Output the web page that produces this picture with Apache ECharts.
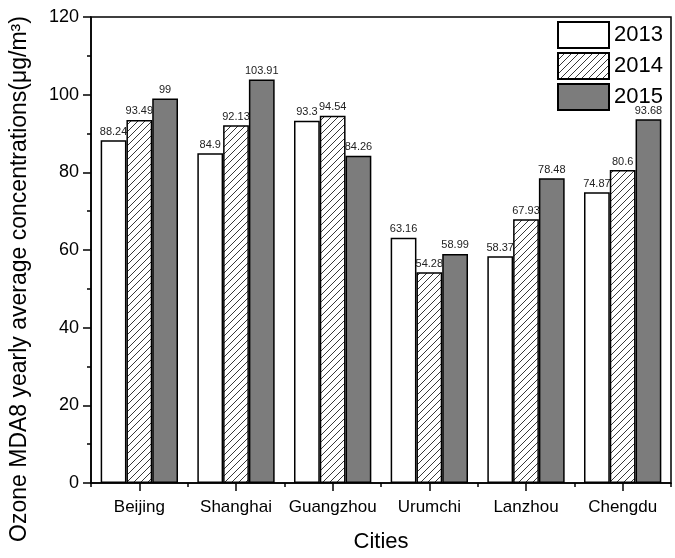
<!DOCTYPE html>
<html>
<head>
<meta charset="utf-8">
<script src="https://cdn.jsdelivr.net/npm/echarts@6/dist/echarts.min.js"></script>
<style>html,body{margin:0;padding:0;background:#fff}#c{width:675px;height:558px}</style>
</head>
<body>
<div id="c"></div>
<script>
const cities = ['Beijing', 'Shanghai', 'Guangzhou', 'Urumchi', 'Lanzhou', 'Chengdu'];
const years = ['2013', '2014', '2015'];
const v2013 = [88.24, 84.9, 93.3, 63.16, 58.37, 74.87];
const v2014 = [93.49, 92.13, 94.54, 54.28, 67.93, 80.6];
const v2015 = [99, 103.91, 84.26, 58.99, 78.48, 93.68];
const yTicks = [0, 20, 40, 60, 80, 100, 120];
const yName = 'Ozone MDA8 yearly average concentrations(μg/m³)';

const FONT = '"Liberation Sans", Arial, sans-serif';

function hatch() {
  const s = 7;
  const c = document.createElement('canvas');
  c.width = s; c.height = s;
  const g = c.getContext('2d');
  g.fillStyle = '#fff'; g.fillRect(0, 0, s, s);
  g.strokeStyle = '#222'; g.lineWidth = 0.9;
  g.beginPath();
  g.moveTo(0, s); g.lineTo(s, 0);
  g.moveTo(-1, 1); g.lineTo(1, -1);
  g.moveTo(s - 1, s + 1); g.lineTo(s + 1, s - 1);
  g.stroke();
  return c;
}

const fills = ['#ffffff', { image: hatch(), repeat: 'repeat' }, '#7c7c7c'];
const vals = [v2013, v2014, v2015];

const chart = echarts.init(document.getElementById('c'), null, { renderer: 'canvas' });
chart.setOption({
  animation: false,
  backgroundColor: '#fff',
  grid: { left: 91, right: 4, top: 17, bottom: 69, show: true, borderColor: '#000', borderWidth: 1.5, backgroundColor: 'transparent' },
  legend: {
    orient: 'vertical', left: 557, top: 21, padding: 0,
    itemWidth: 51, itemHeight: 26, itemGap: 3,
    textStyle: { fontFamily: FONT, fontSize: 22, color: '#000' },
    data: years.map(y => ({ name: y, icon: 'rect' }))
  },
  graphic: [{
    type: 'text', left: 8, top: 'middle', rotation: Math.PI / 2,
    style: { text: yName, fontFamily: FONT, fontSize: 23, fill: '#000' }
  }],
  xAxis: [{
    type: 'category', data: cities,
    axisLine: { lineStyle: { color: '#000', width: 1.5 } },
    axisTick: { show: true, interval: 0, length: 4, lineStyle: { color: '#000', width: 1.5 } },
    axisLabel: { interval: 0, fontFamily: FONT, fontSize: 17, color: '#000', margin: 16 },
    name: 'Cities', nameLocation: 'middle', nameGap: 48,
    nameTextStyle: { fontFamily: FONT, fontSize: 22, color: '#000' }
  }, {
    type: 'category', data: cities, position: 'bottom',
    axisLine: { show: false },
    axisTick: { show: true, interval: 0, alignWithLabel: true, length: 8, lineStyle: { color: '#000', width: 1.5 } },
    axisLabel: { show: false }
  }],
  yAxis: {
    type: 'value', min: 0, max: 120, interval: 20,
    axisLine: { show: true, lineStyle: { color: '#000', width: 1.5 } },
    axisTick: { show: true, length: 8, lineStyle: { color: '#000', width: 1.5 } },
    minorTick: { show: true, splitNumber: 2, length: 4, lineStyle: { color: '#000', width: 1.5 } },
    splitLine: { show: false },
    axisLabel: { fontFamily: FONT, fontSize: 18, color: '#000', margin: 12,
      formatter: v => yTicks.includes(v) ? String(v) : '' }
  },
  series: years.map((y, i) => ({
    name: y, type: 'bar', data: vals[i],
    barGap: '0%', barCategoryGap: '20%',
    itemStyle: { color: fills[i], borderColor: '#000', borderWidth: 1.5 },
    label: { show: true, position: 'top', distance: 3, fontFamily: FONT, fontSize: 11, color: '#222' }
  }))
});
</script>
</body>
</html>
